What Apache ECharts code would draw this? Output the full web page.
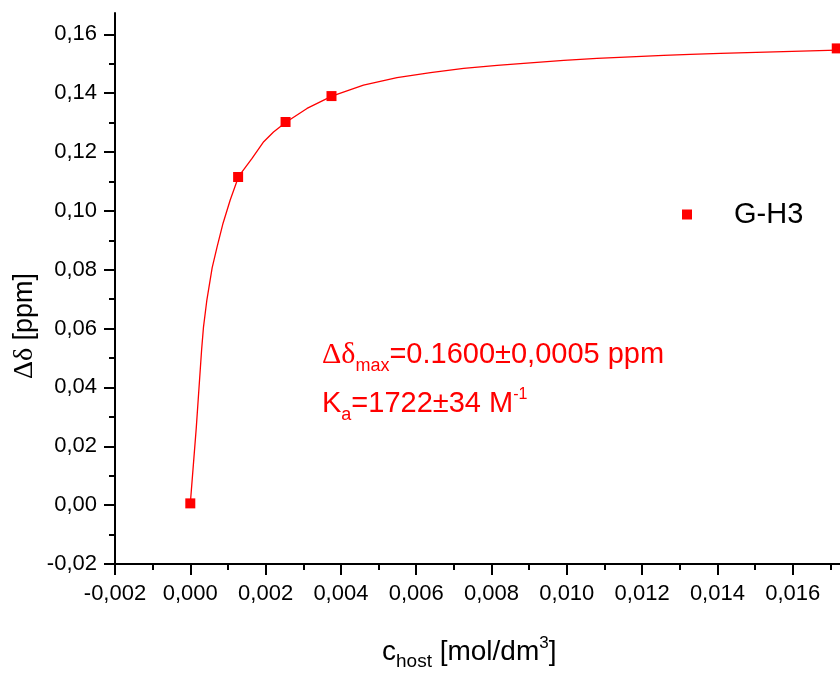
<!DOCTYPE html>
<html><head><meta charset="utf-8">
<script src="https://cdn.jsdelivr.net/npm/echarts@6/dist/echarts.min.js"></script>
<style>html,body{margin:0;padding:0;background:#fff}#c{width:840px;height:673px}</style>
</head><body><div id="c"></div>
<script>
// tick values
const xMajorTicks = [-0.002, 0, 0.002, 0.004, 0.006, 0.008, 0.010, 0.012, 0.014, 0.016];
const xMinorTicks = [-0.001, 0.001, 0.003, 0.005, 0.007, 0.009, 0.011, 0.013, 0.015, 0.017];
const yMajorTicks = [-0.02, 0, 0.02, 0.04, 0.06, 0.08, 0.10, 0.12, 0.14, 0.16];
const yMinorTicks = [-0.01, 0.01, 0.03, 0.05, 0.07, 0.09, 0.11, 0.13, 0.15];
// measured points (G-H3)
const concX = [0.0000, 0.00127, 0.00253, 0.00375, 0.01717];
const deltaY = [0.0006, 0.1115, 0.1302, 0.1390, 0.1552];
// fitted curve
const fitX = [0.0000, 0.00016, 0.00030, 0.00035, 0.00044, 0.00058, 0.00071, 0.00087, 0.00106, 0.00128, 0.00164, 0.00195, 0.00221, 0.00254, 0.00310, 0.00376, 0.00460, 0.00549, 0.00638, 0.00726, 0.00815, 0.00903, 0.00992, 0.01080, 0.01169, 0.01257, 0.01328, 0.01408, 0.01718];
const fitY = [0.0005, 0.0265, 0.0527, 0.0605, 0.0697, 0.0806, 0.0877, 0.0958, 0.1037, 0.1116, 0.1178, 0.1235, 0.1268, 0.1301, 0.1348, 0.1390, 0.1427, 0.1453, 0.1470, 0.1484, 0.1494, 0.1503, 0.1511, 0.1518, 0.1523, 0.1528, 0.1532, 0.1535, 0.1546];

const X_MIN = -0.002, X_MAX = 0.017256, Y_MIN = -0.02, Y_MAX = 0.16723;
const FONT = "'Liberation Sans', Arial, sans-serif";
const SERIF = "'Liberation Serif', 'Times New Roman', serif";
const RED = '#ff0000';

const gridRect = {left: 115, top: 13, right: 0, bottom: 109};
const chart = echarts.init(document.getElementById('c'), null, {renderer: 'canvas'});

const fmtX = v => Number(v).toFixed(3).replace('.', ',');
const fmtY = v => Number(v).toFixed(2).replace('.', ',');

function richSet(fill, main, sub, sup, subPad) {
  return {
    n: {fontFamily: FONT, fontSize: main, lineHeight: 34, fill: fill},
    g: {fontFamily: SERIF, fontSize: main + 1, lineHeight: 34, fill: fill},
    sub: {fontFamily: FONT, fontSize: sub, lineHeight: 34, verticalAlign: 'top', padding: [subPad, 0, 0, 0], fill: fill},
    sup: {fontFamily: FONT, fontSize: sup, lineHeight: 34, verticalAlign: 'top', padding: [0, 0, 0, 0], fill: fill}
  };
}
const richRed = richSet(RED, 29, 18, 16, 19);
const richBlack = richSet('#000', 28, 19, 17, 17);

const option = {
  backgroundColor: '#fff',
  animation: false,
  grid: [Object.assign({}, gridRect), Object.assign({}, gridRect)],
  xAxis: [{
    type: 'value', gridIndex: 0, min: X_MIN, max: X_MAX, position: 'bottom',
    axisLine: {show: true, onZero: false, lineStyle: {color: '#000', width: 2}},
    axisTick: {show: true, inside: false, length: 11, lineStyle: {color: '#000', width: 2}, customValues: xMajorTicks},
    axisLabel: {show: true, margin: 19, fontSize: 22, fontFamily: FONT, color: '#000', formatter: fmtX, customValues: xMajorTicks, hideOverlap: false},
    splitLine: {show: false}
  }, {
    type: 'value', gridIndex: 1, min: X_MIN, max: X_MAX, position: 'bottom',
    axisLine: {show: false, onZero: false},
    axisTick: {show: true, inside: false, length: 6, lineStyle: {color: '#000', width: 2}, customValues: xMinorTicks},
    axisLabel: {show: false},
    splitLine: {show: false}
  }],
  yAxis: [{
    type: 'value', gridIndex: 0, min: Y_MIN, max: Y_MAX, position: 'left',
    axisLine: {show: true, onZero: false, lineStyle: {color: '#000', width: 2}},
    axisTick: {show: true, inside: false, length: 11, lineStyle: {color: '#000', width: 2}, customValues: yMajorTicks},
    axisLabel: {show: true, margin: 18, fontSize: 22, fontFamily: FONT, color: '#000', formatter: fmtY, customValues: yMajorTicks},
    splitLine: {show: false}
  }, {
    type: 'value', gridIndex: 1, min: Y_MIN, max: Y_MAX, position: 'left',
    axisLine: {show: false, onZero: false},
    axisTick: {show: true, inside: false, length: 6, lineStyle: {color: '#000', width: 2}, customValues: yMinorTicks},
    axisLabel: {show: false},
    splitLine: {show: false}
  }],
  legend: {
    data: [{name: 'G-H3', icon: 'rect'}],
    left: 682, top: 200, padding: 0,
    itemWidth: 10, itemHeight: 10,
    textStyle: {fontFamily: FONT, fontSize: 29, color: '#000', padding: [0, 0, 0, 37]},
    itemStyle: {color: RED, opacity: 1},
    selectedMode: false
  },
  series: [{
    name: 'fit', type: 'line', xAxisIndex: 0, yAxisIndex: 0,
    data: fitX.map((x, i) => [x, fitY[i]]),
    showSymbol: false, symbol: 'none', smooth: false,
    lineStyle: {color: RED, width: 1.3}, silent: true, z: 2
  }, {
    name: 'G-H3', type: 'scatter', xAxisIndex: 0, yAxisIndex: 0,
    data: concX.map((x, i) => [x, deltaY[i]]),
    symbol: 'rect', symbolSize: 10,
    itemStyle: {color: RED, opacity: 1}, z: 3
  }],
  graphic: [
    {type: 'text', x: 322, y: 338, style: {text: '{g|Δδ}{sub|max}{n|=0.1600±0,0005 ppm}', rich: richRed, verticalAlign: 'top'}},
    {type: 'text', x: 322, y: 387, style: {text: '{n|K}{sub|a}{n|=1722±34 M}{sup|-1}', rich: richRed, verticalAlign: 'top'}},
    {type: 'text', x: 382, y: 635, style: {text: '{n|c}{sub|host}{n| [mol/dm}{sup|3}{n|]}', rich: richBlack, verticalAlign: 'top'}},
    {type: 'text', x: 25, y: 326, rotation: Math.PI / 2, style: {text: '{g|Δδ}{n| [ppm]}', rich: richSet('#000', 27, 17, 15, 15), align: 'center', verticalAlign: 'middle'}}
  ]
};
chart.setOption(option);
</script>
</body></html>
